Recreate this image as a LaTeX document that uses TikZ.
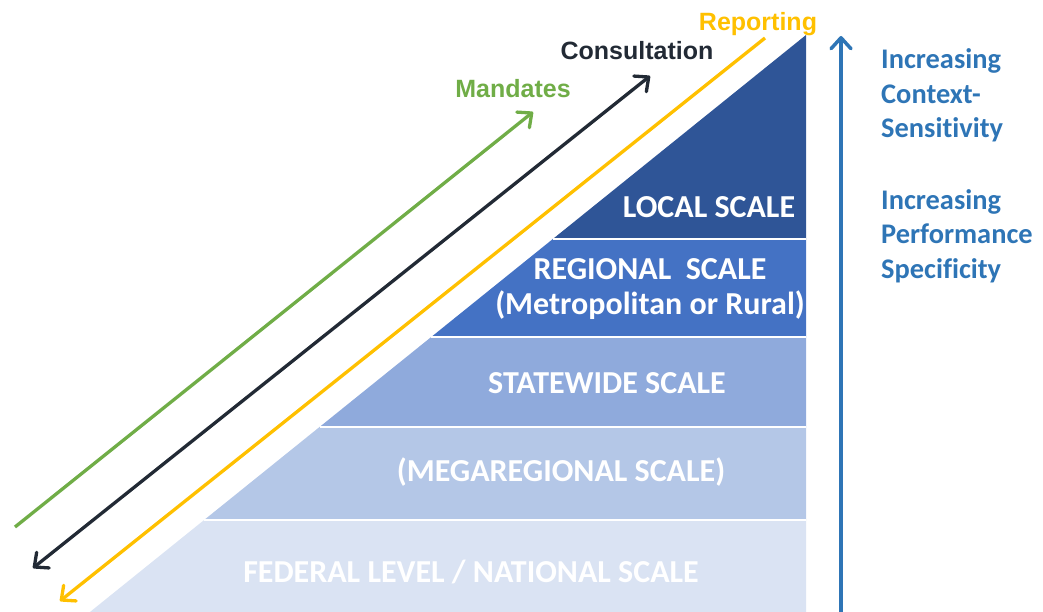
\documentclass[tikz,border=0pt]{standalone}
\usepackage{fontspec}
\setmainfont{Carlito}[Ligatures=NoCommon]
\newfontfamily\arialfont{Liberation Sans}
\usetikzlibrary{arrows.meta}
\definecolor{lclblue}{RGB}{47,85,151}
\definecolor{rgnblue}{RGB}{68,114,196}
\definecolor{stwblue}{RGB}{143,170,220}
\definecolor{megblue}{RGB}{180,199,231}
\definecolor{fedblue}{RGB}{218,227,243}
\definecolor{mandgreen}{RGB}{112,173,71}
\definecolor{consnavy}{RGB}{34,42,53}
\definecolor{repyellow}{RGB}{255,192,0}
\definecolor{axisblue}{RGB}{46,117,182}
\tikzset{
  scaletxt/.style={white, font=\fontsize{32}{35}\selectfont\bfseries, align=center, inner sep=0pt},
  flow/.style={line width=3.3pt},
  barb/.tip={Straight Barb[length=11pt,width=20pt,round]},
  lbl/.style={font=\arialfont\fontsize{25}{30}\selectfont\bfseries, anchor=base, inner sep=0pt},
  sidetxt/.style={axisblue, font=\fontsize{28.4}{34.5}\selectfont\bfseries, align=left, anchor=base west, inner sep=0pt}
}

\begin{document}
\begin{tikzpicture}[x=1pt,y=-1pt]
\useasboundingbox (0,0) rectangle (1043,612);
% Scale bands (hypotenuse from apex (806,35) down to (90,612))
\foreach \ya/\yb/\col in {35/239/lclblue, 239/337/rgnblue, 337/427/stwblue, 427/520/megblue, 520/612/fedblue} {
  \fill[\col] ({806-1.241*(\ya-35)},\ya) -- (806,\ya) -- (806,\yb) -- ({806-1.241*(\yb-35)},\yb) -- cycle;
}
\foreach \yb in {239, 337, 427, 520} {
  \draw[white, line width=1.2pt] ({806-1.241*(\yb-35)},\yb) -- (806,\yb);
}
\node[scaletxt] (local) at (709,207) {LOCAL SCALE};
\node[scaletxt] (regional) at (650,289) {REGIONAL\ \ SCALE\\(Metropolitan or Rural)};
\node[scaletxt] (statewide) at (607,383) {STATEWIDE SCALE};
\node[scaletxt] (megaregional) at (561,472) {(MEGAREGIONAL SCALE)};
\node[scaletxt] (federal) at (471,572) {FEDERAL LEVEL / NATIONAL SCALE};
% Mandates
\coordinate (mandlo) at (15,527);
\coordinate (mandhi) at (533,112);
\draw[flow, mandgreen, -barb] (mandlo) -- (mandhi);
\node[lbl, mandgreen] (mandlbl) at (513,98) {Mandates};
% Consultation
\coordinate (conslo) at (33,568);
\coordinate (conshi) at (650,76);
\draw[flow, consnavy, barb-barb] (conslo) -- (conshi);
\node[lbl, consnavy] (conslbl) at (637,60) {Consultation};
% Reporting
\coordinate (rephi) at (765,38);
\coordinate (replo) at (60,601);
\draw[flow, repyellow, -barb] (rephi) -- (replo);
\node[lbl, repyellow] (replbl) at (758,31) {Reporting};
% Increasing axis
\coordinate (axislo) at (841,612);
\coordinate (axishi) at (841,36);
\draw[line width=3.5pt, axisblue, -barb] (axislo) -- (axishi);
\node[sidetxt] (context) at (881,138) {Increasing\\Context-\\Sensitivity};
\node[sidetxt] (perform) at (881,278) {Increasing\\Performance\\Specificity};
\end{tikzpicture}
\end{document}
